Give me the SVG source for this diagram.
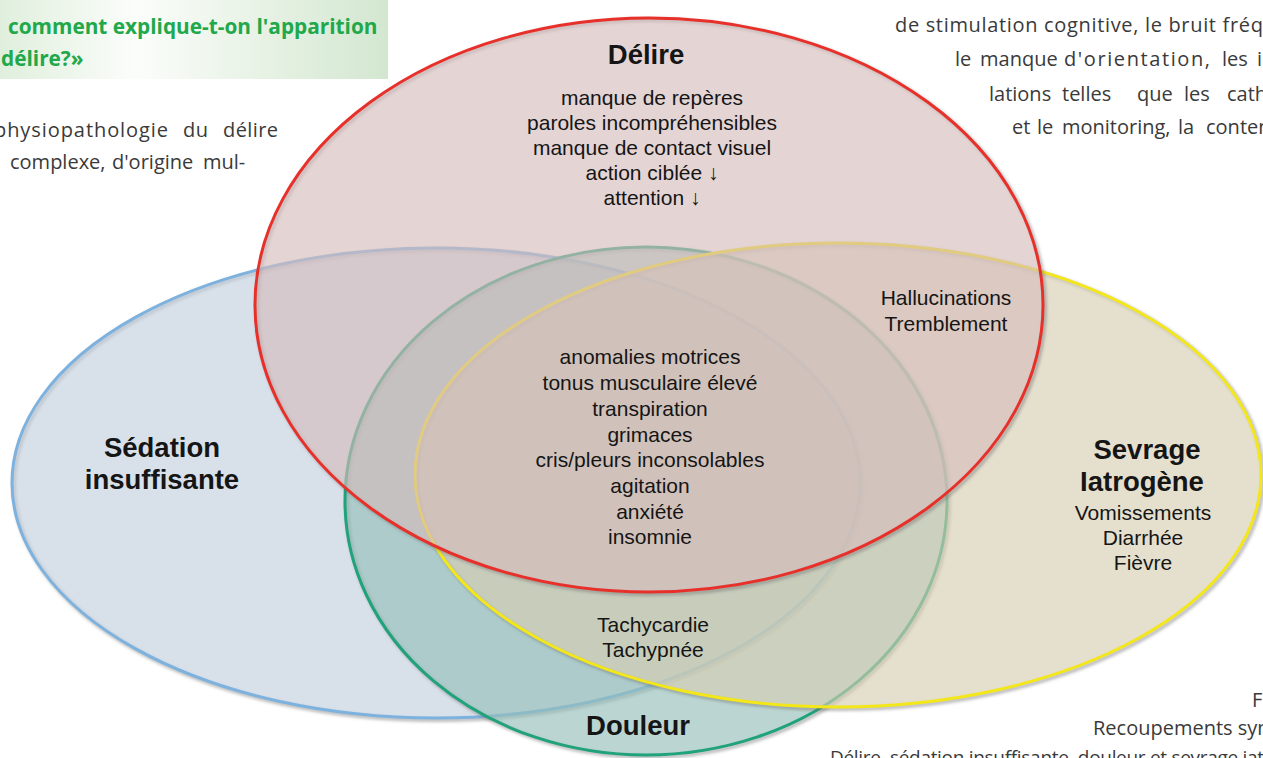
<svg xmlns="http://www.w3.org/2000/svg" width="1263" height="758" viewBox="0 0 1263 758">
<defs>
<linearGradient id="boxg" x1="0" y1="0" x2="1" y2="0">
<stop offset="0" stop-color="#e0efdd"/>
<stop offset="0.35" stop-color="#fbfdfa"/>
<stop offset="1" stop-color="#d3e7d0"/>
</linearGradient>
<filter id="blur" x="-10%" y="-10%" width="120%" height="120%"><feGaussianBlur stdDeviation="1.8"/></filter>
<style>
.shadow{fill:none;stroke:#6a6a6a;stroke-opacity:.45;stroke-width:4;filter:url(#blur)}
.set{stroke-width:3;fill-opacity:.64}
.lbl{font-family:"Liberation Sans",Arial,sans-serif;font-size:21px;fill:#151515;text-anchor:middle}
.ttl{font-weight:bold;font-size:27.5px}
.page{font-family:"Open Sans","Liberation Sans",sans-serif;font-size:20px;fill:#3a3a3a}
.head{font-family:"Open Sans","Liberation Sans",sans-serif;font-weight:bold;font-size:20.8px;fill:#21a84a}
</style>
</defs>
<rect width="1263" height="758" fill="#ffffff"/>

<g id="page-text">
<rect x="0" y="0" width="388" height="79" fill="url(#boxg)"/>
<text class="head" x="8" y="34">comment explique-t-on l'apparition</text>
<text class="head" x="1" y="66">délire?»</text>
<text class="page" y="137"><tspan x="-6" textLength="174" lengthAdjust="spacing">physiopathologie</tspan><tspan x="183" textLength="25" lengthAdjust="spacing">du</tspan><tspan x="223" textLength="55" lengthAdjust="spacing">délire</tspan></text>
<text class="page" y="169"><tspan x="10">complexe,</tspan><tspan x="112">d'origine</tspan><tspan x="203">mul-</tspan></text>
<text class="page" x="895" y="32" letter-spacing="0.67">de stimulation cognitive, le bruit fréquent</text>
<text class="page" y="66"><tspan x="955">le</tspan><tspan x="980">manque</tspan><tspan x="1064" textLength="146" lengthAdjust="spacing">d'orientation,</tspan><tspan x="1222">les</tspan><tspan x="1257">interventions</tspan></text>
<text class="page" y="101"><tspan x="989">lations</tspan><tspan x="1062">telles</tspan><tspan x="1137">que</tspan><tspan x="1184">les</tspan><tspan x="1227">cathéters</tspan></text>
<text class="page" y="134"><tspan x="1012">et</tspan><tspan x="1037">le</tspan><tspan x="1062">monitoring,</tspan><tspan x="1178">la</tspan><tspan x="1206">contention</tspan></text>
<text class="page" x="1252" y="707">Figure</text>
<text class="page" x="1093" y="735">Recoupements symptomatiques</text>
<text class="page" x="830" y="764" style="font-size:19px" letter-spacing="-0.3">Délire, sédation insuffisante, douleur et sevrage iatrogène</text>
</g>

<g id="sedation">
<ellipse class="shadow" cx="438" cy="485" rx="424" ry="235"/>
<ellipse class="set" cx="436" cy="483" rx="424" ry="235" fill="#c2cede" stroke="#7db2df"/>
<text class="lbl ttl" x="162" y="457">Sédation</text>
<text class="lbl ttl" x="162" y="489">insuffisante</text>
</g>

<g id="douleur">
<ellipse class="shadow" cx="648" cy="503" rx="301" ry="254"/>
<ellipse class="set" cx="646" cy="501" rx="301" ry="254" fill="#95bfb8" stroke="#20a27b"/>
<text class="lbl ttl" x="638" y="735">Douleur</text>
</g>

<g id="sevrage">
<ellipse class="shadow" cx="840" cy="477" rx="423" ry="232"/>
<ellipse class="set" cx="838" cy="475" rx="423" ry="232" fill="#d6cdb2" stroke="#f3e71a"/>
<text class="lbl ttl" x="1147" y="459">Sevrage</text>
<text class="lbl ttl" x="1142" y="491">Iatrogène</text>
<text class="lbl" x="1143" y="520">Vomissements</text>
<text class="lbl" x="1143" y="545">Diarrhée</text>
<text class="lbl" x="1143" y="570">Fièvre</text>
</g>

<g id="delire">
<ellipse class="shadow" cx="651" cy="307" rx="394" ry="287"/>
<ellipse class="set" cx="649" cy="305" rx="394" ry="287" fill="#d4bcbc" stroke="#e8302a"/>
<text class="lbl ttl" x="646" y="64">Délire</text>
<text class="lbl" x="652" y="105">manque de repères</text>
<text class="lbl" x="652" y="130">paroles incompréhensibles</text>
<text class="lbl" x="652" y="155">manque de contact visuel</text>
<text class="lbl" x="652" y="180">action ciblée ↓</text>
<text class="lbl" x="652" y="205">attention ↓</text>
</g>

<g id="overlaps">
<g id="center-all">
<text class="lbl" x="650" y="364">anomalies motrices</text>
<text class="lbl" x="650" y="390">tonus musculaire élevé</text>
<text class="lbl" x="650" y="416">transpiration</text>
<text class="lbl" x="650" y="442">grimaces</text>
<text class="lbl" x="650" y="467">cris/pleurs inconsolables</text>
<text class="lbl" x="650" y="493">agitation</text>
<text class="lbl" x="650" y="519">anxiété</text>
<text class="lbl" x="650" y="544">insomnie</text>
</g>
<g id="delire-sevrage">
<text class="lbl" x="946" y="305">Hallucinations</text>
<text class="lbl" x="946" y="331">Tremblement</text>
</g>
<g id="douleur-sevrage">
<text class="lbl" x="653" y="632">Tachycardie</text>
<text class="lbl" x="653" y="657">Tachypnée</text>
</g>
</g>
</svg>
